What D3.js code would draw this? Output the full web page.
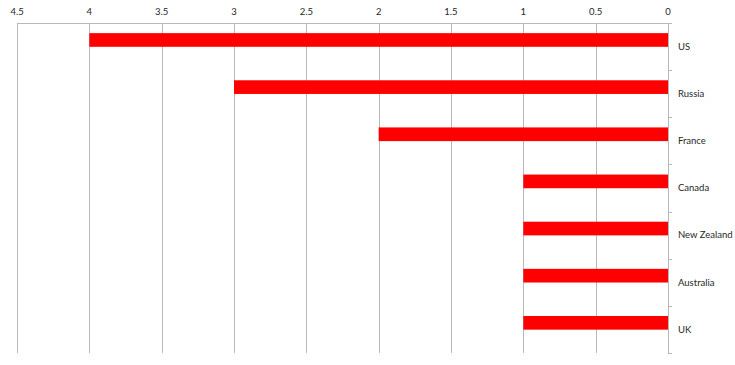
<!DOCTYPE html>
<meta charset="utf-8">
<script src="https://d3js.org/d3.v7.min.js"></script>
<style>
  body {margin: 0; background: #fff;}
  text {font-family: Lato, "Liberation Sans", sans-serif; fill: #262626;}
</style>
<div id="chart"></div>
<script>

// data
var countries = ["US", "Russia", "France", "Canada", "New Zealand", "Australia", "UK"];
var counts = [4, 3, 2, 1, 1, 1, 1];
var xTicks = [0, 0.5, 1, 1.5, 2, 2.5, 3, 3.5, 4, 4.5];

var margin = {top: 23, right: 67, bottom: 12, left: 17},
    width = 735 - margin.left - margin.right,
    height = 365 - margin.top - margin.bottom;

var svg = d3.select("#chart")
  .append("svg")
    .attr("width", 735)
    .attr("height", 365)
  .append("g")
    .attr("transform", "translate(" + margin.left + "," + margin.top + ")");

// reversed x: 0 on the right
var x = d3.scaleLinear()
  .domain([4.5, 0])
  .range([0, width]);

var y = d3.scaleBand()
  .domain(countries)
  .range([0, height]);

// vertical gridlines
svg.selectAll(".grid")
  .data(xTicks)
  .enter()
  .append("line")
    .attr("x1", function(d) { return Math.round(x(d)) + 0.5; })
    .attr("x2", function(d) { return Math.round(x(d)) + 0.5; })
    .attr("y1", 0)
    .attr("y2", height)
    .attr("stroke", "#b8b8b8");

// top axis line
svg.append("line")
  .attr("x1", 0)
  .attr("x2", width + 3)
  .attr("y1", 0.5)
  .attr("y2", 0.5)
  .attr("stroke", "#b8b8b8");

// top tick labels
svg.selectAll(".xlab")
  .data(xTicks)
  .enter()
  .append("text")
    .attr("x", function(d) { return x(d); })
    .attr("y", -8)
    .attr("text-anchor", "middle")
    .style("font-size", "9.5px")
    .text(function(d) { return d; });

// right category axis ticks
var bounds = countries.map(function(c) { return y(c); }).concat([height]);
svg.selectAll(".ytick")
  .data(bounds)
  .enter()
  .append("line")
    .attr("x1", width)
    .attr("x2", width + 4)
    .attr("y1", function(d) { return Math.round(d) + 0.5; })
    .attr("y2", function(d) { return Math.round(d) + 0.5; })
    .attr("stroke", "#b8b8b8");

// bars
svg.selectAll(".bar")
  .data(countries)
  .enter()
  .append("rect")
    .attr("x", function(d, i) { return x(counts[i]); })
    .attr("y", function(d) { return y(d) + y.bandwidth() * 0.215; })
    .attr("width", function(d, i) { return x(0) - x(counts[i]); })
    .attr("height", y.bandwidth() * 0.29)
    .attr("fill", "#ff0000");

// category labels
svg.selectAll(".ylab")
  .data(countries)
  .enter()
  .append("text")
    .attr("x", width + 10)
    .attr("y", function(d) { return y(d) + y.bandwidth() / 2; })
    .attr("dy", "0.35em")
    .style("font-size", "9.5px")
    .text(function(d) { return d; });

</script>
